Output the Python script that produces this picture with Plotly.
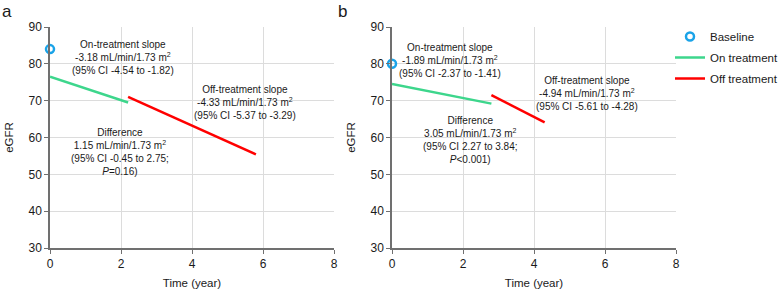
import plotly.graph_objects as go

# ---- data ----
baseline_x = [0]
baseline_a = [84]
baseline_b = [80]

on_x_a = [0, 2.2]
on_y_a = [76.5, 69.5]
off_x_a = [2.2, 5.8]
off_y_a = [71.0, 55.4]

on_x_b = [0, 2.8]
on_y_b = [74.5, 69.2]
off_x_b = [2.8, 4.3]
off_y_b = [71.5, 64.1]

x_ticks = [0, 2, 4, 6, 8]
y_ticks = [30, 40, 50, 60, 70, 80, 90]

GREEN = "#3dd68c"
RED = "#ff0000"
BLUE = "#1aa3e8"
FONT = "Liberation Sans, Arial, sans-serif"
TXT = "#1a1a1a"

fig = go.Figure()

# panel a
fig.add_trace(go.Scatter(x=baseline_x, y=baseline_a, mode="markers", name="Baseline",
                         marker=dict(symbol="circle-open", size=8, color=BLUE, line=dict(width=2.5, color=BLUE)),
                         xaxis="x", yaxis="y", showlegend=True, legendgroup="b", cliponaxis=False))
fig.add_trace(go.Scatter(x=on_x_a, y=on_y_a, mode="lines", name="On treatment",
                         line=dict(color=GREEN, width=2.5), xaxis="x", yaxis="y", showlegend=True, legendgroup="on"))
fig.add_trace(go.Scatter(x=off_x_a, y=off_y_a, mode="lines", name="Off treatment",
                         line=dict(color=RED, width=2.5), xaxis="x", yaxis="y", showlegend=True, legendgroup="off"))
# panel b
fig.add_trace(go.Scatter(x=baseline_x, y=baseline_b, mode="markers", name="Baseline",
                         marker=dict(symbol="circle-open", size=8, color=BLUE, line=dict(width=2.5, color=BLUE)),
                         xaxis="x2", yaxis="y2", showlegend=False, legendgroup="b", cliponaxis=False))
fig.add_trace(go.Scatter(x=on_x_b, y=on_y_b, mode="lines", name="On treatment",
                         line=dict(color=GREEN, width=2.5), xaxis="x2", yaxis="y2", showlegend=False, legendgroup="on"))
fig.add_trace(go.Scatter(x=off_x_b, y=off_y_b, mode="lines", name="Off treatment",
                         line=dict(color=RED, width=2.5), xaxis="x2", yaxis="y2", showlegend=False, legendgroup="off"))

W, H = 778, 289
ydom = [1 - 248 / H, 1 - 27 / H]
xdom_a = [50 / W, 334 / W]
xdom_b = [392 / W, 676 / W]

axis_common = dict(showgrid=True, gridcolor="#dcdcdc", gridwidth=1, showline=True, linecolor="#707070",
                   linewidth=1.5, ticks="outside", ticklen=4, tickcolor="#707070", zeroline=False,
                   tickfont=dict(family=FONT, size=12, color=TXT), automargin=False)

xa = dict(axis_common, range=[0, 8], tickvals=x_ticks,
          title=dict(text="Time (year)", font=dict(family=FONT, size=11.5, color=TXT), standoff=10))
ya = dict(axis_common, range=[30, 90], tickvals=y_ticks,
          title=dict(text="eGFR", font=dict(family=FONT, size=11.5, color=TXT), standoff=12))

fig.update_layout(
    width=W, height=H, margin=dict(l=0, r=0, t=0, b=0, autoexpand=False),
    paper_bgcolor="white", plot_bgcolor="white",
    font=dict(family=FONT, color=TXT),
    xaxis=dict(xa, domain=xdom_a, anchor="y"),
    yaxis=dict(ya, domain=ydom, anchor="x"),
    xaxis2=dict(xa, domain=xdom_b, anchor="y2"),
    yaxis2=dict(ya, domain=ydom, anchor="x2"),
    legend=dict(x=670 / W, y=1 - 22 / H, xanchor="left", yanchor="top", bgcolor="rgba(0,0,0,0)",
                font=dict(family=FONT, size=11.5, color=TXT), itemwidth=30, tracegroupgap=2),
    showlegend=True,
)

ann_font = dict(family=FONT, size=10, color=TXT)
anns = [
    ("x", "y", 2.06, 87.2, "On-treatment slope<br>-3.18 mL/min/1.73 m<sup>2</sup><br>(95% CI -4.54 to -1.82)"),
    ("x", "y", 5.5, 75.0, "Off-treatment slope<br>-4.33 mL/min/1.73 m<sup>2</sup><br>(95% CI -5.37 to -3.29)"),
    ("x", "y", 1.97, 63.5, "Difference<br>1.15 mL/min/1.73 m<sup>2</sup><br>(95% CI -0.45 to 2.75;<br><i>P</i>=0.16)"),
    ("x2", "y2", 1.63, 86.5, "On-treatment slope<br>-1.89 mL/min/1.73 m<sup>2</sup><br>(95% CI -2.37 to -1.41)"),
    ("x2", "y2", 5.5, 77.5, "Off-treatment slope<br>-4.94 mL/min/1.73 m<sup>2</sup><br>(95% CI -5.61 to -4.28)"),
    ("x2", "y2", 2.2, 66.7, "Difference<br>3.05 mL/min/1.73 m<sup>2</sup><br>(95% CI 2.27 to 3.84;<br><i>P</i>&lt;0.001)"),
]
for xr, yr, x, y, t in anns:
    fig.add_annotation(xref=xr, yref=yr, x=x, y=y, text=t, showarrow=False, font=ann_font,
                       xanchor="center", yanchor="top", align="center")

fig.add_annotation(xref="paper", yref="paper", x=0 / W, y=1 - 0 / H, text="a", showarrow=False,
                   font=dict(family=FONT, size=17, color=TXT), xanchor="left", yanchor="top")
fig.add_annotation(xref="paper", yref="paper", x=336 / W, y=1 - 0 / H, text="b", showarrow=False,
                   font=dict(family=FONT, size=17, color=TXT), xanchor="left", yanchor="top")

fig.write_html("out.html", config={"displayModeBar": False},
               post_script="document.body.style.margin='0';document.body.style.overflow='hidden';")
